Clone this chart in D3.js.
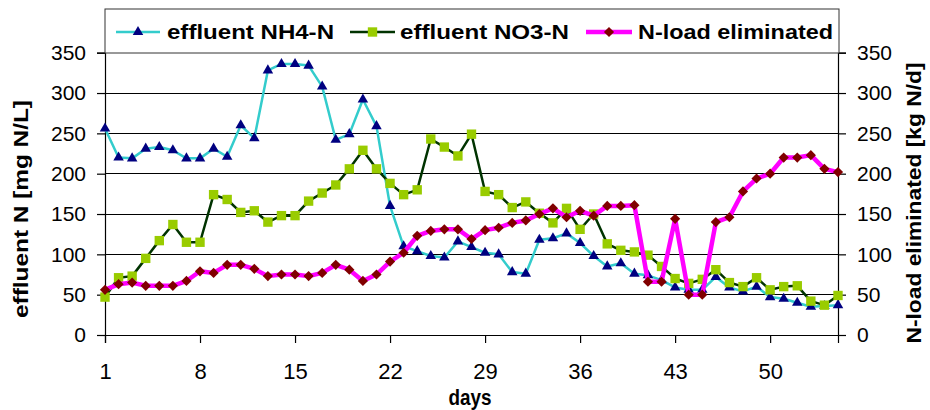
<!DOCTYPE html>
<html><head><meta charset="utf-8">
<script src="https://cdn.jsdelivr.net/npm/d3@7"></script>
<style>body{margin:0;background:#fff}svg{display:block}</style>
</head><body>
<svg id="c" width="930" height="410"></svg>
<script>
const days = d3.range(1, 56);
const xTicks = [1, 8, 15, 22, 29, 36, 43, 50];
const yTicks = [0, 50, 100, 150, 200, 250, 300, 350];
const nh4 = [256,220,219,231,233,229,219,219,231,221,260,244,328,336,336,334,308,242,249,292,259,160,110,104,98,96,116,109,102,100,78,76,118,120,126,114,98,85,89,76,74,68,59,56,56,72,59,54,60,47,45,40,35,36,37];
const no3 = [47,71,73,95,117,137,115,115,174,168,152,154,140,148,148,166,176,186,206,229,206,188,174,180,243,233,222,249,178,174,158,165,151,139,157,131,150,113,105,103,99,85,70,64,69,81,65,60,71,56,60,61,42,37,49];
const nload = [56,63,65,61,61,61,67,79,77,87,87,82,73,75,75,73,77,87,81,67,75,91,102,123,129,131,131,119,130,133,139,142,150,157,146,154,148,160,160,161,66,66,144,50,50,140,146,178,194,200,220,220,223,206,202];
const seriesNames = ["effluent NH4-N", "effluent NO3-N", "N-load eliminated"];

const svg = d3.select("#c");
const L = 105, R = 838, T = 52.7, B = 335;
const x = d3.scaleLinear().domain([1, 55]).range([L, R]);
const yL = d3.scaleLinear().domain([0, 350]).range([B, T]);
const yR = d3.scaleLinear().domain([0, 350]).range([B, T]);
const font = "'Liberation Sans', Arial, sans-serif";

// gridlines
svg.append("g").selectAll("line").data(yTicks).join("line")
  .attr("x1", L).attr("x2", R).attr("y1", d => yL(d)).attr("y2", d => yL(d))
  .attr("stroke", "#000").attr("stroke-width", 1).attr("shape-rendering", "crispEdges");

// axes
const axL = svg.append("g").attr("transform", `translate(${L},0)`)
  .call(d3.axisLeft(yL).tickValues(yTicks).tickSize(8).tickPadding(11));
const axR = svg.append("g").attr("transform", `translate(${R},0)`)
  .call(d3.axisRight(yR).tickValues(yTicks).tickSize(8).tickPadding(11));
const axB = svg.append("g").attr("transform", `translate(0,${B})`)
  .call(d3.axisBottom(x).tickValues(xTicks).tickSize(8).tickFormat(d3.format("d")));
[axL, axR, axB].forEach(a => {
  a.select(".domain").attr("stroke", "#000").attr("stroke-width", 1.2);
  a.selectAll(".tick line").attr("stroke", "#000").attr("stroke-width", 1.2);
  a.selectAll("text").attr("font-family", font).attr("font-size", 21).attr("fill", "#000");
});
axB.selectAll("text").attr("font-size", 22).attr("y", 44).attr("dy", 0);

// series
function drawSeries(data, y, lineColor, lineW, markerType, markerSize, markerColor, rot) {
  const g = svg.append("g");
  g.append("path").datum(data)
    .attr("d", d3.line().x((d, i) => x(days[i])).y(d => y(d)))
    .attr("fill", "none").attr("stroke", lineColor).attr("stroke-width", lineW).attr("stroke-linejoin", "round");
  g.selectAll("path.m").data(data).join("path").attr("class", "m")
    .attr("d", d3.symbol().type(markerType).size(markerSize))
    .attr("transform", (d, i) => `translate(${x(days[i])},${y(d)}) rotate(${rot})`)
    .attr("fill", markerColor);
}
drawSeries(nh4, yL, "#33CCCC", 2.5, d3.symbolTriangle, 48, "#000080", 0);
drawSeries(no3, yL, "#003300", 2.5, d3.symbolSquare, 88, "#99CC00", 0);
drawSeries(nload, yR, "#FF00FF", 4.5, d3.symbolSquare, 52, "#800000", 45);

// legend
const lg = svg.append("g");
lg.append("rect").attr("x", 105).attr("y", 9).attr("width", 734).attr("height", 44)
  .attr("fill", "#fff").attr("stroke", "#333").attr("stroke-width", 1);
const items = [
  {x1: 116, x2: 160, tx: 167, tw: 167, c: "#33CCCC", w: 2.5, t: d3.symbolTriangle, s: 48, mc: "#000080", r: 0},
  {x1: 350, x2: 395, tx: 400, tw: 169, c: "#003300", w: 2.5, t: d3.symbolSquare, s: 88, mc: "#99CC00", r: 0},
  {x1: 586, x2: 632, tx: 638, tw: 195, c: "#FF00FF", w: 4.5, t: d3.symbolSquare, s: 52, mc: "#800000", r: 45}
];
items.forEach((it, i) => {
  lg.append("line").attr("x1", it.x1).attr("x2", it.x2).attr("y1", 32).attr("y2", 32)
    .attr("stroke", it.c).attr("stroke-width", it.w);
  lg.append("path").attr("d", d3.symbol().type(it.t).size(it.s)())
    .attr("transform", `translate(${(it.x1 + it.x2) / 2},32) rotate(${it.r})`).attr("fill", it.mc);
  lg.append("text").attr("x", it.tx).attr("y", 39).text(seriesNames[i])
    .attr("font-family", font).attr("font-size", 20).attr("font-weight", "bold")
    .attr("textLength", it.tw).attr("lengthAdjust", "spacingAndGlyphs");
});

// axis titles
svg.append("text").attr("transform", "translate(28,209) rotate(-90)").attr("text-anchor", "middle")
  .attr("font-family", font).attr("font-size", 20).attr("font-weight", "bold")
  .attr("textLength", 218).attr("lengthAdjust", "spacingAndGlyphs").text("effluent N [mg N/L]");
svg.append("text").attr("transform", "translate(921,203) rotate(-90)").attr("text-anchor", "middle")
  .attr("font-family", font).attr("font-size", 20).attr("font-weight", "bold")
  .attr("textLength", 281).attr("lengthAdjust", "spacingAndGlyphs").text("N-load eliminated [kg N/d]");
svg.append("text").attr("x", 470).attr("y", 405).attr("text-anchor", "middle")
  .attr("font-family", font).attr("font-size", 22).attr("font-weight", "bold")
  .attr("textLength", 43).attr("lengthAdjust", "spacingAndGlyphs").text("days");
</script>
</body></html>
